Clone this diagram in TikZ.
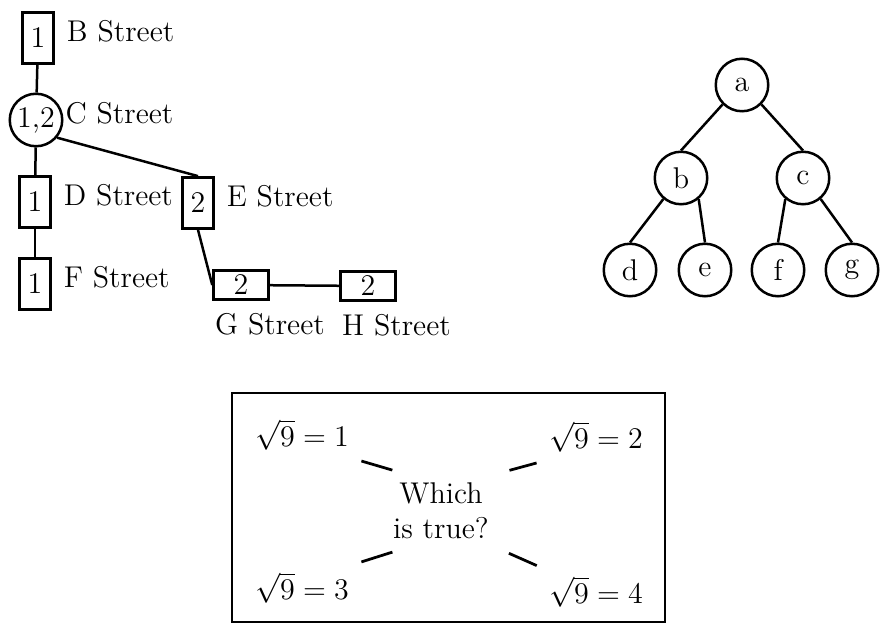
\documentclass[tikz,border=0pt]{standalone}
\usetikzlibrary{arrows.meta, positioning, shapes, calc}
\begin{document}
\begin{tikzpicture}[x=0.4pt, y=-0.4pt, font=\large, line width=1pt]
        \tikzset{stbox/.style={rectangle, draw, minimum width=12.5pt, minimum height=20.5pt, inner sep=1pt},
                 widebox/.style={rectangle, draw, minimum width=22pt, minimum height=11.5pt, inner sep=1pt},
                 stcirc/.style={circle, draw, minimum size=21pt, inner sep=0pt},
                 stlabel/.style={yshift=2.8pt, label distance=1pt},
                 treenode/.style={circle, draw, minimum size=21pt, inner sep=0pt},
                 pointer/.style={line width=1.1pt, shorten <=4.6pt, shorten >=1.2pt}}
        \useasboundingbox (0,0) rectangle (886,631);

        % streets
        \node[stbox, label={[stlabel]right:B Street}] (b_st) at (38,38) {1};
        \node[stcirc, label={[stlabel, label distance=-3pt]right:C Street}] (c_st) at (36,120) {1,2};
        \node[stbox, label={[stlabel]right:D Street}] (d_st) at (35,202) {1};
        \node[stbox, label={[stlabel]right:F Street}] (f_st) at (35,284) {1};
        \node[stbox, label={[stlabel]right:E Street}] (e_st) at (198,203) {2};
        \node[widebox, label={[anchor=north west, label distance=3pt]south west:G Street}] (g_st) at (241,285) {2};
        \node[widebox, label={[anchor=north west, label distance=3pt]south west:H Street}] (h_st) at (368,286) {2};

        \draw (b_st) -- (c_st);
        \draw (c_st) -- (d_st);
        \draw (d_st) -- (f_st);
        \draw (c_st.-40) -- (e_st.north);
        \draw (e_st.south) -- (g_st.west);
        \draw (g_st) -- (h_st);

        % tree
        \node[treenode] (a) at (742,85) {a};
        \node[treenode] (b) at (681,178) {b};
        \node[treenode] (c) at (803,178) {c};
        \node[treenode] (d) at (630,270) {d};
        \node[treenode] (e) at (705,270) {e};
        \node[treenode] (f) at (778,270) {f};
        \node[treenode] (g) at (852,270) {g};

        \draw (a.-135) -- (b.north);
        \draw (a.-45) -- (c.north);
        \draw (b.-130) -- (d.north);
        \draw (b.-50) -- (e.north);
        \draw (c.-130) -- (f.north);
        \draw (c.-50) -- (g.north);

        % quiz
        \draw (232,393) rectangle (665,622);
        \node (q) at (441,511) [align=center] {Which\\is true?};
        \node (t1) at (302,435) {$\sqrt{9} = 1$};
        \node (t2) at (596,437) {$\sqrt{9} = 2$};
        \node (t3) at (302,588) {$\sqrt{9} = 3$};
        \node (t4) at (596,592) {$\sqrt{9} = 4$};

        \draw[pointer] (q.135) -- (t1.south east);
        \draw[pointer] (q.north east) -- (t2.south west);
        \draw[pointer] (q.225) -- (t3.north east);
        \draw[pointer] (q.south east) -- (t4.north west);
    \end{tikzpicture}
\end{document}
